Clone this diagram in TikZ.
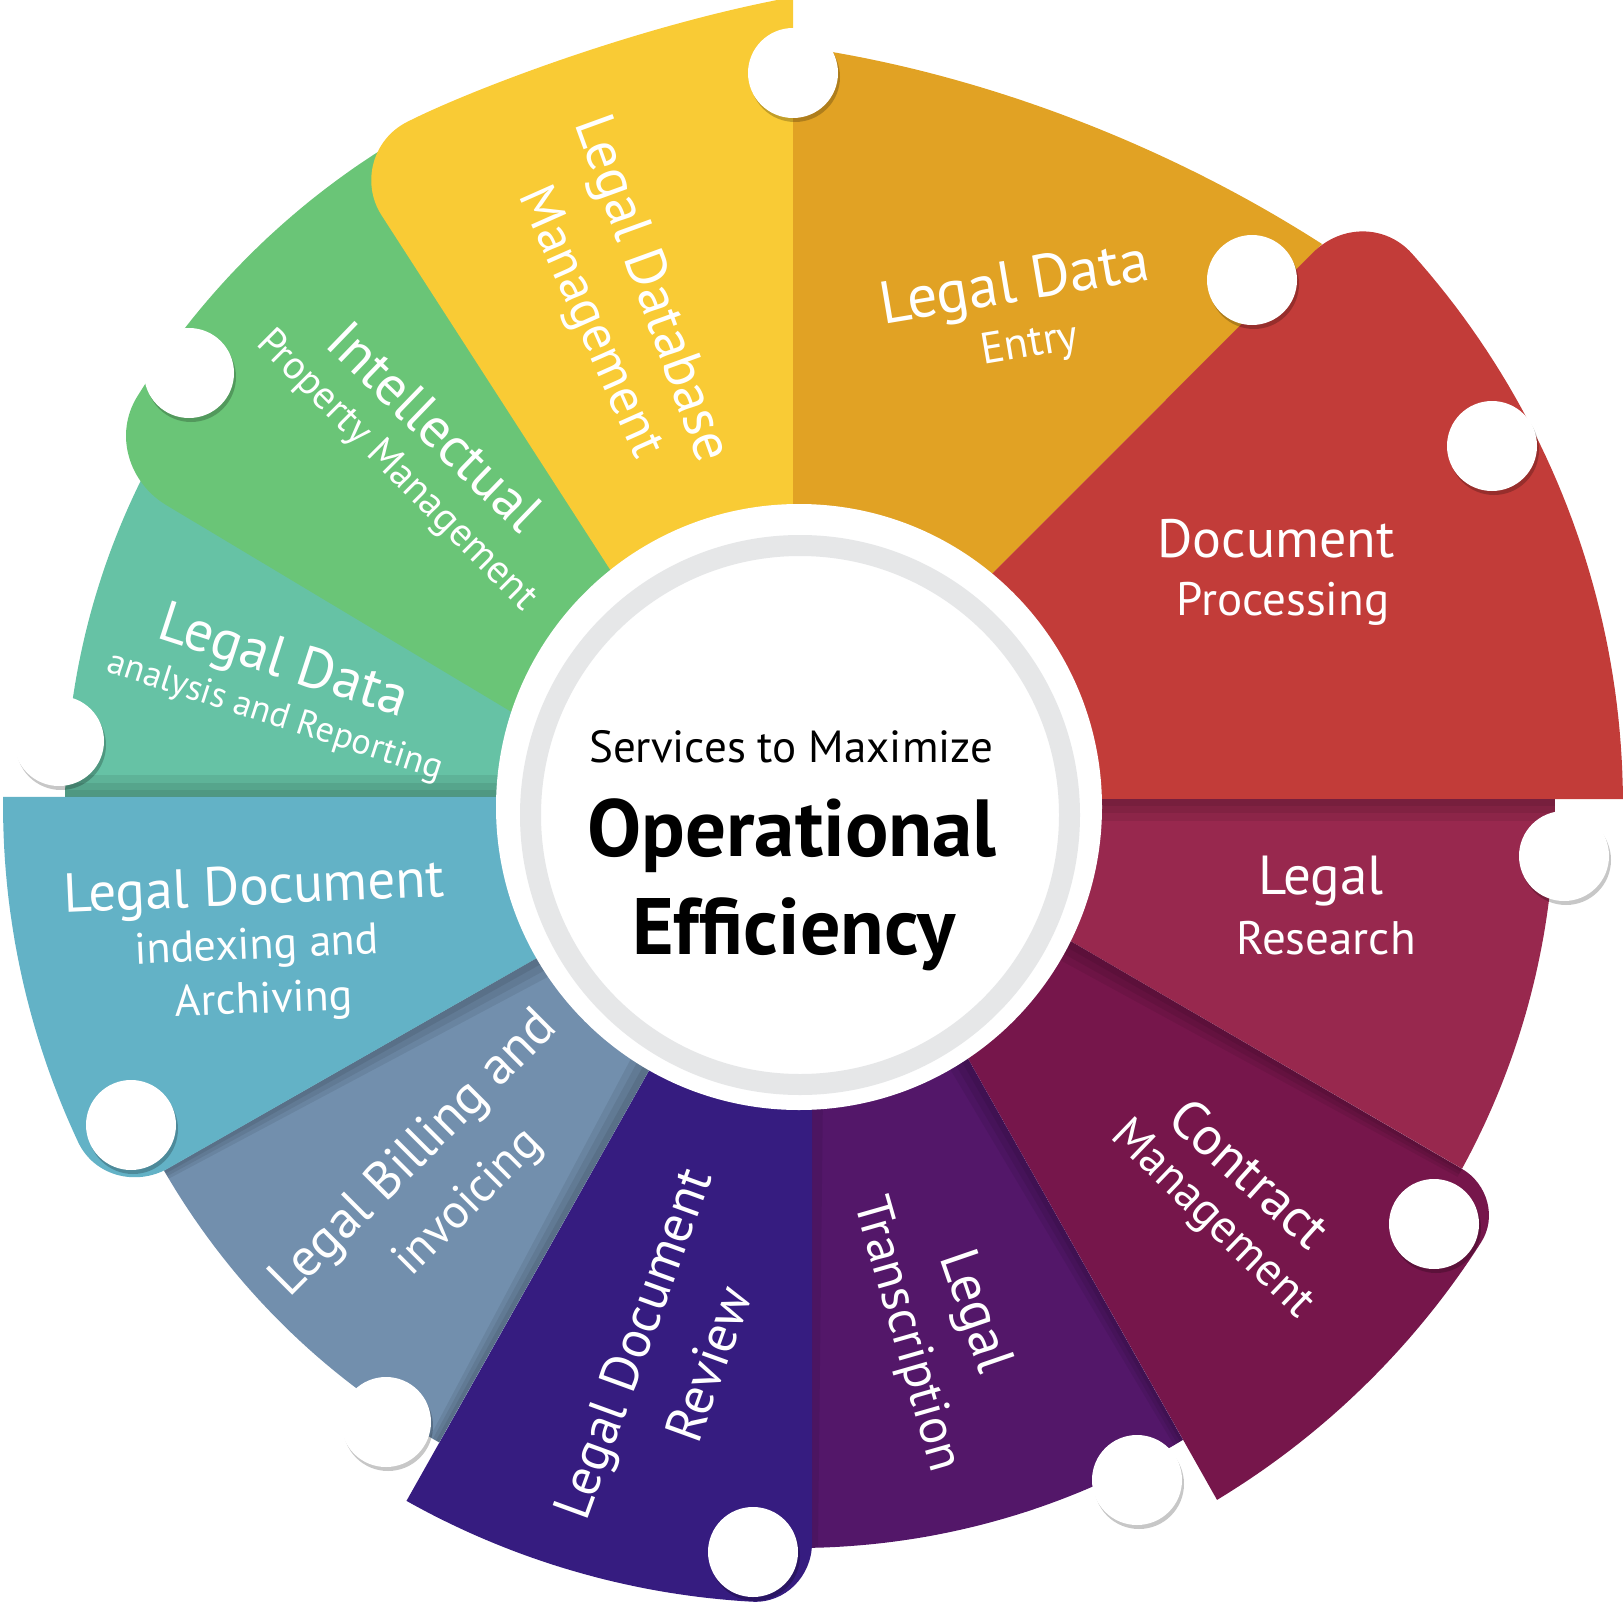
\documentclass[tikz,border=0pt]{standalone}
\usepackage{fontspec}
\setmainfont{PT Sans}
\definecolor{cyel}{HTML}{F9CB35}
\definecolor{cora}{HTML}{E1A224}
\definecolor{cred}{HTML}{C23C39}
\definecolor{cmar}{HTML}{98284E}
\definecolor{ccon}{HTML}{76164B}
\definecolor{ctra}{HTML}{531769}
\definecolor{cind}{HTML}{361C80}
\definecolor{cbil}{HTML}{728FAD}
\definecolor{cblu}{HTML}{63B2C6}
\definecolor{ctea}{HTML}{66C2A5}
\definecolor{cgre}{HTML}{6AC577}
\definecolor{cring}{HTML}{E6E7E8}
% segment outlines (pixel coordinates, y downwards)
\def\segYel{(662,650) -- (381.6,215.3) .. controls (360.7,182.8) and (372.6,139.2) .. (407.2,121.9) .. controls (470,90) and (640,25) .. (793,-3) -- (793,600) -- cycle}
\def\segOra{(793,600) -- (793,46) .. controls (970,70) and (1160,140) .. (1322,244) -- (880,686) -- cycle}
\def\segRed{(1000,799) -- (1630,799) -- plot[domain=0.42:41.91,samples=45,variable=\t] ({797+826*cos(\t)},{805-826*sin(\t)}) .. controls (1385.2,224.1) and (1341.2,224.4) .. (1313.1,252.5) -- (880,686) -- cycle}
\def\segMar{(1000,900) -- plot[domain=-28.67:0.45,samples=40,variable=\t] ({797+758*cos(\t)},{805-758*sin(\t)}) -- (1000,799) -- cycle}
\def\segCon{(900,938) -- plot[domain=-58.85:-32.6,samples=35,variable=\t] ({797+812*cos(\t)},{805-812*sin(\t)}) .. controls (1497.2,1217.4) and (1487.6,1183.8) .. (1461.9,1168.8) -- (1000,900) -- cycle}
\def\segTra{(812,1000) -- plot[domain=-88.84:-58.7,samples=35,variable=\t] ({797+743*cos(\t)},{805-743*sin(\t)}) -- (900,938) -- cycle}
\def\segInd{(700,980) -- plot[domain=-119.3:-93.23,samples=35,variable=\t] ({797+798*cos(\t)},{805-798*sin(\t)}) .. controls (785.2,1603.6) and (812,1576.1) .. (812,1543) -- (812,1000) -- cycle}
\def\segBil{(600,922) -- plot[domain=-150:-119.3,samples=35,variable=\t] ({797+731*cos(\t)},{805-731*sin(\t)}) -- (700,980) -- cycle}
\def\segBlu{(600,797) -- plot[domain=179.42:205.1,samples=35,variable=\t] ({797+794*cos(\t)},{805-794*sin(\t)}) .. controls (93.9,1175.9) and (135.8,1186.9) .. (168.4,1168.2) -- (600,922) -- cycle}
\def\segTea{(600,765) -- (250,500) -- plot[domain=152:179.37,samples=35,variable=\t] ({797+732*cos(\t)},{805-732*sin(\t)}) -- (600,797) -- cycle}
\def\segGre{(662,650) -- plot[domain=121:148.25,samples=35,variable=\t] ({797+776*cos(\t)},{805-776*sin(\t)}) .. controls (114.0,434.2) and (128.5,482.4) .. (166.3,505.1) -- (600,765) -- cycle}
\begin{document}
\begin{tikzpicture}[x=1pt,y=-1pt,
  lbl/.style={text=white,inner sep=0pt,anchor=center},
  ctr/.style={text=black,inner sep=0pt,anchor=center},
  shd/.style={fill=black,opacity=.075},
  dotshadow/.style={fill=black,opacity=.22},
  dotface/.style={fill=white}]
\useasboundingbox (0,0) rectangle (1623,1608);
\clip (0,0) rectangle (1623,1608);
% segments
\fill[ctea] \segTea;
\fill[cgre] \segGre;
\fill[cyel] \segYel;
\fill[cora] \segOra;
\fill[cred] \segRed;
\fill[cmar] \segMar;
\fill[ccon] \segCon;
\fill[ctra] \segTra;
\fill[cind] \segInd;
\fill[cbil] \segBil;
\fill[cblu] \segBlu;
% shadows along the folds
\begin{scope}
  \clip \segTea;
  \fill[shd] (0,775) rectangle (620,797);
  \fill[shd] (0,783) rectangle (620,797);
  \fill[shd] (0,790) rectangle (620,797);
\end{scope}
\begin{scope}
  \clip \segMar;
  \fill[shd] (1000,799) rectangle (1623,821);
  \fill[shd] (1000,799) rectangle (1623,813);
  \fill[shd] (1000,799) rectangle (1623,806);
\end{scope}
\begin{scope}
  \clip \segCon;
  \fill[shd] (1000,900) -- (1462,1169) -- (1457.5,1176.8) -- (987.9,920.7) -- cycle;
  \fill[shd] (1000,900) -- (1462,1169) -- (1459,1174.2) -- (992,913.8) -- cycle;
  \fill[shd] (1000,900) -- (1462,1169) -- (1460.5,1171.6) -- (996,906.9) -- cycle;
\end{scope}
\begin{scope}
  \clip \segTra;
  \fill[shd] (900,938) -- (1217,1500) -- (1209.2,1504.4) -- (879.1,949.8) -- cycle;
  \fill[shd] (900,938) -- (1217,1500) -- (1211.8,1502.9) -- (886.1,945.9) -- cycle;
  \fill[shd] (900,938) -- (1217,1500) -- (1214.4,1501.5) -- (893,941.9) -- cycle;
  \fill[shd] (812,1000) -- (812,1548) -- (818,1548) -- (824,1000) -- cycle;
\end{scope}
\begin{scope}
  \clip \segBil;
  \fill[shd] (600,922) -- (164,1171) -- (168.5,1178.8) -- (611.9,942.8) -- cycle;
  \fill[shd] (600,922) -- (164,1171) -- (167,1176.2) -- (607.9,935.9) -- cycle;
  \fill[shd] (600,922) -- (164,1171) -- (165.5,1173.6) -- (604,928.9) -- cycle;
  \fill[shd] (700,980) -- (406,1501) -- (398.2,1496.6) -- (679.1,968.2) -- cycle;
  \fill[shd] (700,980) -- (406,1501) -- (400.8,1498) -- (686.1,972.1) -- cycle;
  \fill[shd] (700,980) -- (406,1501) -- (403.4,1499.5) -- (693,976.1) -- cycle;
\end{scope}
% centre disc
\fill[white] (799,807) circle (303);
\draw[cring,line width=21] (800,815) circle (269.5);
% dots
\foreach \px/\py in {793/73, 1252/280, 1492/446, 1564/856, 1434/1224, 1137/1480, 753/1552, 386/1422, 131/1125, 59/741, 189/373}{
  \fill[dotshadow] (\px+2,\py+4) circle (45);
  \fill[dotface] (\px,\py) circle (45);
}
% labels
\node[lbl,rotate=-70,font=\fontsize{56}{60}\selectfont] (tY1) at (650,290) {Legal Database};
\node[lbl,rotate=-66,font=\fontsize{52}{60}\selectfont] (tY2) at (589,323) {Management};
\node[lbl,rotate=9.5,font=\fontsize{60}{60}\selectfont] (tO1) at (1015,287) {Legal Data};
\node[lbl,rotate=9.5,font=\fontsize{44}{50}\selectfont] (tO2) at (1030,346) {Entry};
\node[lbl,font=\fontsize{54}{60}\selectfont] (tR1) at (1276,539) {Document};
\node[lbl,font=\fontsize{47}{50}\selectfont] (tR2) at (1283,604) {Processing};
\node[lbl,font=\fontsize{55}{60}\selectfont] (tM1) at (1321,881) {Legal};
\node[lbl,font=\fontsize{47}{50}\selectfont] (tM2) at (1326,938) {Research};
\node[lbl,rotate=-42,font=\fontsize{54}{60}\selectfont] (tK1) at (1250,1173) {Contract};
\node[lbl,rotate=-44,font=\fontsize{47}{50}\selectfont] (tK2) at (1212,1220) {Management};
\node[lbl,rotate=-71,font=\fontsize{55}{60}\selectfont] (tT1) at (973,1312) {Legal};
\node[lbl,rotate=-74,font=\fontsize{51}{60}\selectfont] (tT2) at (906,1335) {Transcription};
\node[lbl,rotate=70,font=\fontsize{53}{60}\selectfont] (tI1) at (637,1345) {Legal Document};
\node[lbl,rotate=70,font=\fontsize{53}{60}\selectfont] (tI2) at (708,1364) {Review};
\node[lbl,rotate=45,font=\fontsize{53}{60}\selectfont] (tB1) at (415,1155) {Legal Billing and};
\node[lbl,rotate=45,font=\fontsize{48}{50}\selectfont] (tB2) at (469,1203) {invoicing};
\node[lbl,rotate=2.5,font=\fontsize{55}{60}\selectfont] (tL1) at (254,891) {Legal Document};
\node[lbl,rotate=2.5,font=\fontsize{44}{50}\selectfont] (tL2) at (257,948) {indexing and};
\node[lbl,rotate=2,font=\fontsize{44}{50}\selectfont] (tL3) at (264,1002) {Archiving};
\node[lbl,rotate=-18,font=\fontsize{57}{60}\selectfont] (tE1) at (283,664) {Legal Data};
\node[lbl,rotate=-18,font=\fontsize{36}{40}\selectfont] (tE2) at (275,717) {analysis and Reporting};
\node[lbl,rotate=-44,font=\fontsize{56}{60}\selectfont] (tG1) at (435,426) {Intellectual};
\node[lbl,rotate=-45,font=\fontsize{40}{44}\selectfont] (tG2) at (396,471) {Property Management};
\node[ctr,font=\fontsize{45}{48}\selectfont] (tC1) at (791,747) {Services to Maximize};
\node[ctr,font=\fontsize{81}{84}\selectfont\bfseries] (tC2) at (792,836) {Operational};
\node[ctr,font=\fontsize{80}{84}\selectfont\bfseries] (tC3) at (794,934) {Efficiency};
\end{tikzpicture}
\end{document}
